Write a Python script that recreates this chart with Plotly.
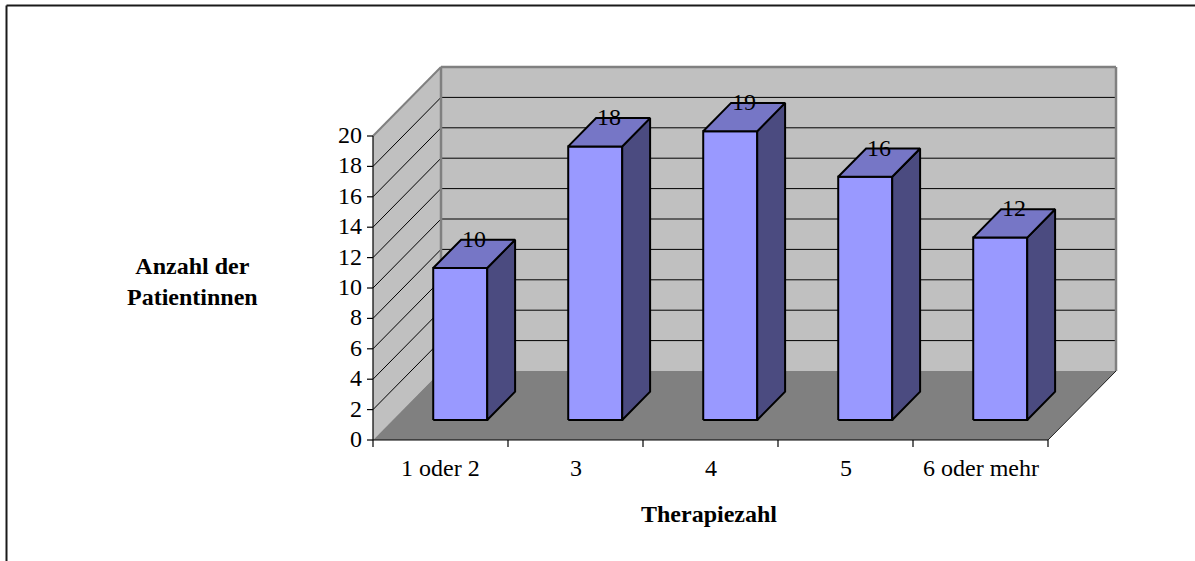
import plotly.graph_objects as go

# ---- data -------------------------------------------------------------
categories = ["1 oder 2", "3", "4", "5", "6 oder mehr"]
patients = [10, 18, 19, 16, 12]
y_tick_values = [0, 2, 4, 6, 8, 10, 12, 14, 16, 18, 20]
x_title = "Therapiezahl"
y_title = "Anzahl der<br>Patientinnen"

# ---- geometry of the pseudo-3D box -----------------------------------
W, H = 1195, 561
ORIGIN_X, ORIGIN_Y = 373, 440      # pixel position of (first category edge, value 0) on the front plane
CAT_PX = 135                       # pixels per category
VAL_PX = 15.2                      # pixels per value unit
DEPTH_DX_PX, DEPTH_DY_PX = 68, 69  # oblique offset of the back wall
Y_MAX = y_tick_values[-1]
N = len(categories)

DX = DEPTH_DX_PX / CAT_PX
DY = DEPTH_DY_PX / VAL_PX

BAR_WIDTH = 0.4
BAR_D0, BAR_D1 = 0.29, 0.70        # depth span of each column (0 = front, 1 = back wall)

FONT = "Liberation Serif, Times New Roman, serif"
FONT_SIZE = 24
WALL = "#c0c0c0"
WALL_EDGE = "#808080"
FLOOR = "#808080"
FRONT = "#9999ff"
TOP = "#7676c6"
SIDE = "#4b4b80"


def P(x, y, d=0.0):
    """Project a point (category position, value, depth) onto the chart plane."""
    return x + d * DX, y + d * DY


fig = go.Figure()


def polygon(points, fill, line_color=None, line_width=0):
    xs = [p[0] for p in points] + [points[0][0]]
    ys = [p[1] for p in points] + [points[0][1]]
    fig.add_trace(go.Scatter(
        x=xs, y=ys, mode="lines", fill="toself", fillcolor=fill,
        line=dict(color=line_color or fill, width=line_width),
        hoverinfo="skip", showlegend=False))


def segment(a, b, color="black", width=1):
    fig.add_trace(go.Scatter(
        x=[a[0], b[0]], y=[a[1], b[1]], mode="lines",
        line=dict(color=color, width=width),
        hoverinfo="skip", showlegend=False))


# walls and floor
polygon([P(0, 0, 0), P(0, 0, 1), P(0, Y_MAX, 1), P(0, Y_MAX, 0)], WALL)
polygon([P(0, 0, 1), P(N, 0, 1), P(N, Y_MAX, 1), P(0, Y_MAX, 1)], WALL)
polygon([P(0, 0, 0), P(N, 0, 0), P(N, 0, 1), P(0, 0, 1)], FLOOR)

# gridlines on the side and back walls
for v in y_tick_values[1:-1]:
    segment(P(0, v, 0), P(0, v, 1), "black", 1)
    segment(P(0, v, 1), P(N, v, 1), "black", 1)

# wall edges
segment(P(0, Y_MAX, 0), P(0, Y_MAX, 1), WALL_EDGE, 2)
segment(P(0, Y_MAX, 1), P(N, Y_MAX, 1), WALL_EDGE, 2.5)
segment(P(N, Y_MAX, 1), P(N, 0, 1), WALL_EDGE, 2.5)
segment(P(0, 0, 1), P(0, Y_MAX, 1), WALL_EDGE, 2.5)
segment(P(N, 0, 0), P(N, 0, 1), "#202020", 1)

# value axis and category axis lines with their tick marks
segment(P(0, 0, 0), P(0, Y_MAX, 0), "black", 1.2)
segment(P(0, 0, 0), P(N, 0, 0), "black", 1.2)
tick_len_y = 6 / CAT_PX
tick_len_x = 7 / VAL_PX
for v in y_tick_values:
    segment(P(-tick_len_y, v), P(0, v), "black", 1.2)
for i in range(N + 1):
    segment(P(i, 0), P(i, -tick_len_x), "black", 1.2)

# columns
for i, v in enumerate(patients):
    x0 = i + 0.5 - BAR_WIDTH / 2
    x1 = i + 0.5 + BAR_WIDTH / 2
    polygon([P(x0, 0, BAR_D0), P(x1, 0, BAR_D0), P(x1, v, BAR_D0), P(x0, v, BAR_D0)],
            FRONT, "black", 2)
    polygon([P(x1, 0, BAR_D0), P(x1, 0, BAR_D1), P(x1, v, BAR_D1), P(x1, v, BAR_D0)],
            SIDE, "black", 2)
    polygon([P(x0, v, BAR_D0), P(x1, v, BAR_D0), P(x1, v, BAR_D1), P(x0, v, BAR_D1)],
            TOP, "black", 2)

annotations = []

# data labels
d_mid = (BAR_D0 + BAR_D1) / 2
for i, v in enumerate(patients):
    lx, _ = P(i + 0.5, v, d_mid)
    _, ly = P(i + 0.5, v, BAR_D1)
    annotations.append(dict(x=lx, y=ly, text=str(v), showarrow=False,
                            xanchor="center", yanchor="middle", yshift=1,
                            font=dict(family=FONT, size=FONT_SIZE, color="black")))

# value tick labels
for v in y_tick_values:
    annotations.append(dict(x=0, y=v, text=str(v), showarrow=False,
                            xanchor="right", yanchor="middle", xshift=-9, yshift=1,
                            font=dict(family=FONT, size=FONT_SIZE, color="black")))

# category tick labels
for i, c in enumerate(categories):
    annotations.append(dict(x=i + 0.5, y=0, text=c, showarrow=False,
                            xanchor="center", yanchor="middle", yshift=-28,
                            font=dict(family=FONT, size=FONT_SIZE, color="black")))

# axis titles
annotations.append(dict(x=709 / W, y=1 - 514 / H, xref="paper", yref="paper",
                        text="<b>" + x_title + "</b>", showarrow=False,
                        xanchor="center", yanchor="middle",
                        font=dict(family=FONT, size=FONT_SIZE, color="black")))
annotations.append(dict(x=192 / W, y=1 - 281 / H, xref="paper", yref="paper",
                        text="<b>" + y_title.replace("<br>", "</b><br><b>") + "</b>",
                        showarrow=False, xanchor="center", yanchor="middle",
                        font=dict(family=FONT, size=FONT_SIZE, color="black")))

fig.update_layout(
    width=W, height=H,
    margin=dict(l=0, r=0, t=0, b=0),
    paper_bgcolor="white", plot_bgcolor="white",
    xaxis=dict(range=[-ORIGIN_X / CAT_PX, (W - ORIGIN_X) / CAT_PX],
               visible=False, fixedrange=True),
    yaxis=dict(range=[-(H - ORIGIN_Y) / VAL_PX, ORIGIN_Y / VAL_PX],
               visible=False, fixedrange=True),
    annotations=annotations,
    shapes=[
        dict(type="line", xref="paper", yref="paper",
             x0=6.5 / W, y0=1 - 5.5 / H, x1=1.05, y1=1 - 5.5 / H,
             line=dict(color="#1a1a1a", width=2)),
        dict(type="line", xref="paper", yref="paper",
             x0=6.5 / W, y0=1 - 5.5 / H, x1=6.5 / W, y1=-0.05,
             line=dict(color="#1a1a1a", width=2)),
    ],
    showlegend=False,
)

fig.write_html("out.html")
